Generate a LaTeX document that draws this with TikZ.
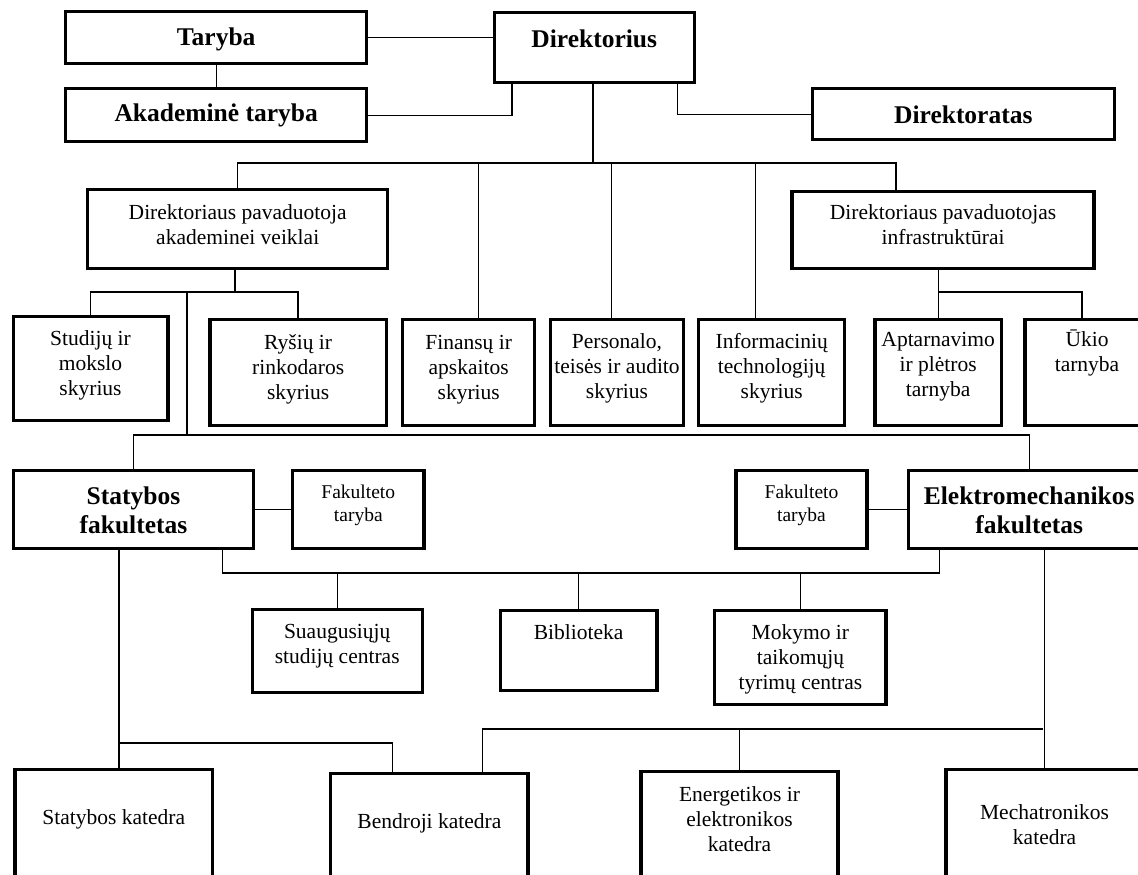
\documentclass[tikz,border=0pt]{standalone}
\usepackage{fontspec}
\setmainfont{Liberation Serif}
\usepackage{tikz}

% text block of a box: width, height, first baseline, text
\newcommand{\boxtxt}[4]{\parbox[c][#2pt][t]{#1pt}{\centering\rule{0pt}{#3pt}#4}}

\begin{document}
\begin{tikzpicture}[x=1pt,y=-1pt,
		box/.style={draw, line width=3.4pt, inner sep=0pt, anchor=north west, font=\fontsize{21.5}{25}\selectfont},
		bigbox/.style={box, font=\fontsize{25.5}{29}\selectfont\bfseries},
		smallbox/.style={box, font=\fontsize{19.5}{23}\selectfont},
		link/.style={line width=1.4pt}]
		\useasboundingbox (0,0) rectangle (1138,875);
		\clip (0,0) rectangle (1138,875);

		% top level
		\node[bigbox] (taryba) at (64,10) {\boxtxt{301}{52}{34}{Taryba}};
		\node[bigbox] (akad) at (64,87) {\boxtxt{301}{53}{33}{Akademinė taryba}};
		\node[bigbox] (direkt) at (492.5,11) {\boxtxt{200}{70}{35}{Direktorius}};
		\node[bigbox] (direktoratas) at (810.6,87) {\boxtxt{302}{51}{35}{Direktoratas}};

		% deputies
		\node[box] (pav1) at (86,188) {\boxtxt{300}{79}{30}{Direktoriaus pavaduotoja\\akademinei veiklai}};
		\node[box] (pav2) at (790.4,190) {\boxtxt{302}{77}{28}{Direktoriaus pavaduotojas\\infrastruktūrai}};

		% departments
		\node[box] (studiju) at (11.6,315) {\boxtxt{154.5}{104}{29}{Studijų ir\\mokslo\\skyrius}};
		\node[box] (rysiu) at (208.3,318) {\boxtxt{176.3}{106}{30}{Ryšių ir\\rinkodaros\\skyrius}};
		\node[box] (finansu) at (401,318) {\boxtxt{132}{106}{30}{Finansų ir\\apskaitos\\skyrius}};
		\node[box] (personalo) at (549,318) {\boxtxt{132.6}{106}{29}{Personalo,\\teisės ir audito\\skyrius}};
		\node[box] (inform) at (697,318) {\boxtxt{146}{106}{29}{Informacinių\\technologijų\\skyrius}};
		\node[box] (aptarn) at (873.3,318) {\boxtxt{126.4}{106}{27}{Aptarnavimo\\ir plėtros\\tarnyba}};
		\node[box] (ukio) at (1023.3,318) {\boxtxt{124}{106}{27}{Ūkio\\tarnyba}};

		% faculties
		\node[bigbox] (statfak) at (11.6,469) {\boxtxt{240.3}{78}{34}{Statybos\\fakultetas}};
		\node[smallbox] (ftaryba1) at (290.8,469) {\boxtxt{131.6}{78}{28}{Fakulteto\\taryba}};
		\node[smallbox] (ftaryba2) at (734.3,469) {\boxtxt{131}{78}{28}{Fakulteto\\taryba}};
		\node[bigbox] (elektro) at (906.5,469) {\boxtxt{242}{78}{34}{Elektromechanikos\\fakultetas}};

		% centres
		\node[box] (suaug) at (250.5,608) {\boxtxt{170}{83}{29}{Suaugusiųjų\\studijų centras}};
		\node[box] (biblio) at (498.7,609) {\boxtxt{156.4}{80}{29}{Biblioteka}};
		\node[box] (mokymo) at (713,609) {\boxtxt{171.4}{94}{29}{Mokymo ir\\taikomųjų\\tyrimų centras}};

		% chairs
		\node[box] (statkat) at (13.4,768) {\boxtxt{197.4}{140}{55}{Statybos katedra}};
		\node[box] (bendroji) at (329,772) {\boxtxt{197.4}{140}{55}{Bendroji katedra}};
		\node[box] (energ) at (639.2,770) {\boxtxt{197.2}{140}{30}{Energetikos ir\\elektronikos\\katedra}};
		\node[box] (mechat) at (944.4,768) {\boxtxt{197}{140}{50}{Mechatronikos\\katedra}};

		\coordinate (bus1) at (593,163);
		\coordinate (bus2) at (235,292);
		\coordinate (bus3) at (187,435);
		\coordinate (bus4) at (577,573);
		\coordinate (bus5) at (119,743);
		\coordinate (bus6) at (1043,729);
		\coordinate (bus7) at (938.5,292);

		\draw[link] (taryba.east) -- (taryba.east -| direkt.west);
		\draw[link] (taryba) -- (akad);
		\draw[link] (akad.east) -| ([xshift=19.3pt]direkt.south west);
		\draw[link] ([xshift=-18.4pt]direkt.south east) |- (direktoratas.west);

		\draw[link] (direkt.south -| bus1) -- (bus1);
		\draw[link] (pav1.north) |- (bus1) -| ([xshift=-47pt]pav2.north);
		\draw[link] ([xshift=10pt]finansu.north) -- ([xshift=10pt]finansu.north |- bus1);
		\draw[link] ([xshift=-5.5pt]personalo.north) -- ([xshift=-5.5pt]personalo.north |- bus1);
		\draw[link] ([xshift=-16pt]inform.north) -- ([xshift=-16pt]inform.north |- bus1);

		\draw[link] (pav1.south -| bus2) -- (bus2);
		\draw[link] (studiju.north) |- (bus2) -| (rysiu.north);
		\draw[link] (pav2.south -| bus7) -- (bus7);
		\draw[link] (aptarn.north -| bus7) |- (bus7) -| ([xshift=-5pt]ukio.north);

		\draw[link] (bus3 |- bus2) -- (bus3);
		\draw[link] (statfak.north) |- (bus3) -| (elektro.north);
		\draw[link] (statfak.east) -- (ftaryba1.west);
		\draw[link] (ftaryba2.east) -- (elektro.west);

		\draw[link] ([xshift=-32.7pt]statfak.south east) |- (bus4) -| ([xshift=33.2pt]elektro.south west);
		\draw[link] (suaug.north) -- (suaug.north |- bus4);
		\draw[link] (biblio.north) -- (biblio.north |- bus4);
		\draw[link] (mokymo.north) -- (mokymo.north |- bus4);

		\draw[link] (statkat.north -| bus5) -- (bus5 |- statfak.south);
		\draw[link] (bus5) -| ([xshift=-36.9pt]bendroji.north);
		\draw[link] (mechat.north) -- (mechat.north |- elektro.south);
		\draw[link] (bus6) -| ([xshift=53pt]bendroji.north);
		\draw[link] (energ.north) -- (energ.north |- bus6);
	\end{tikzpicture}
\end{document}
